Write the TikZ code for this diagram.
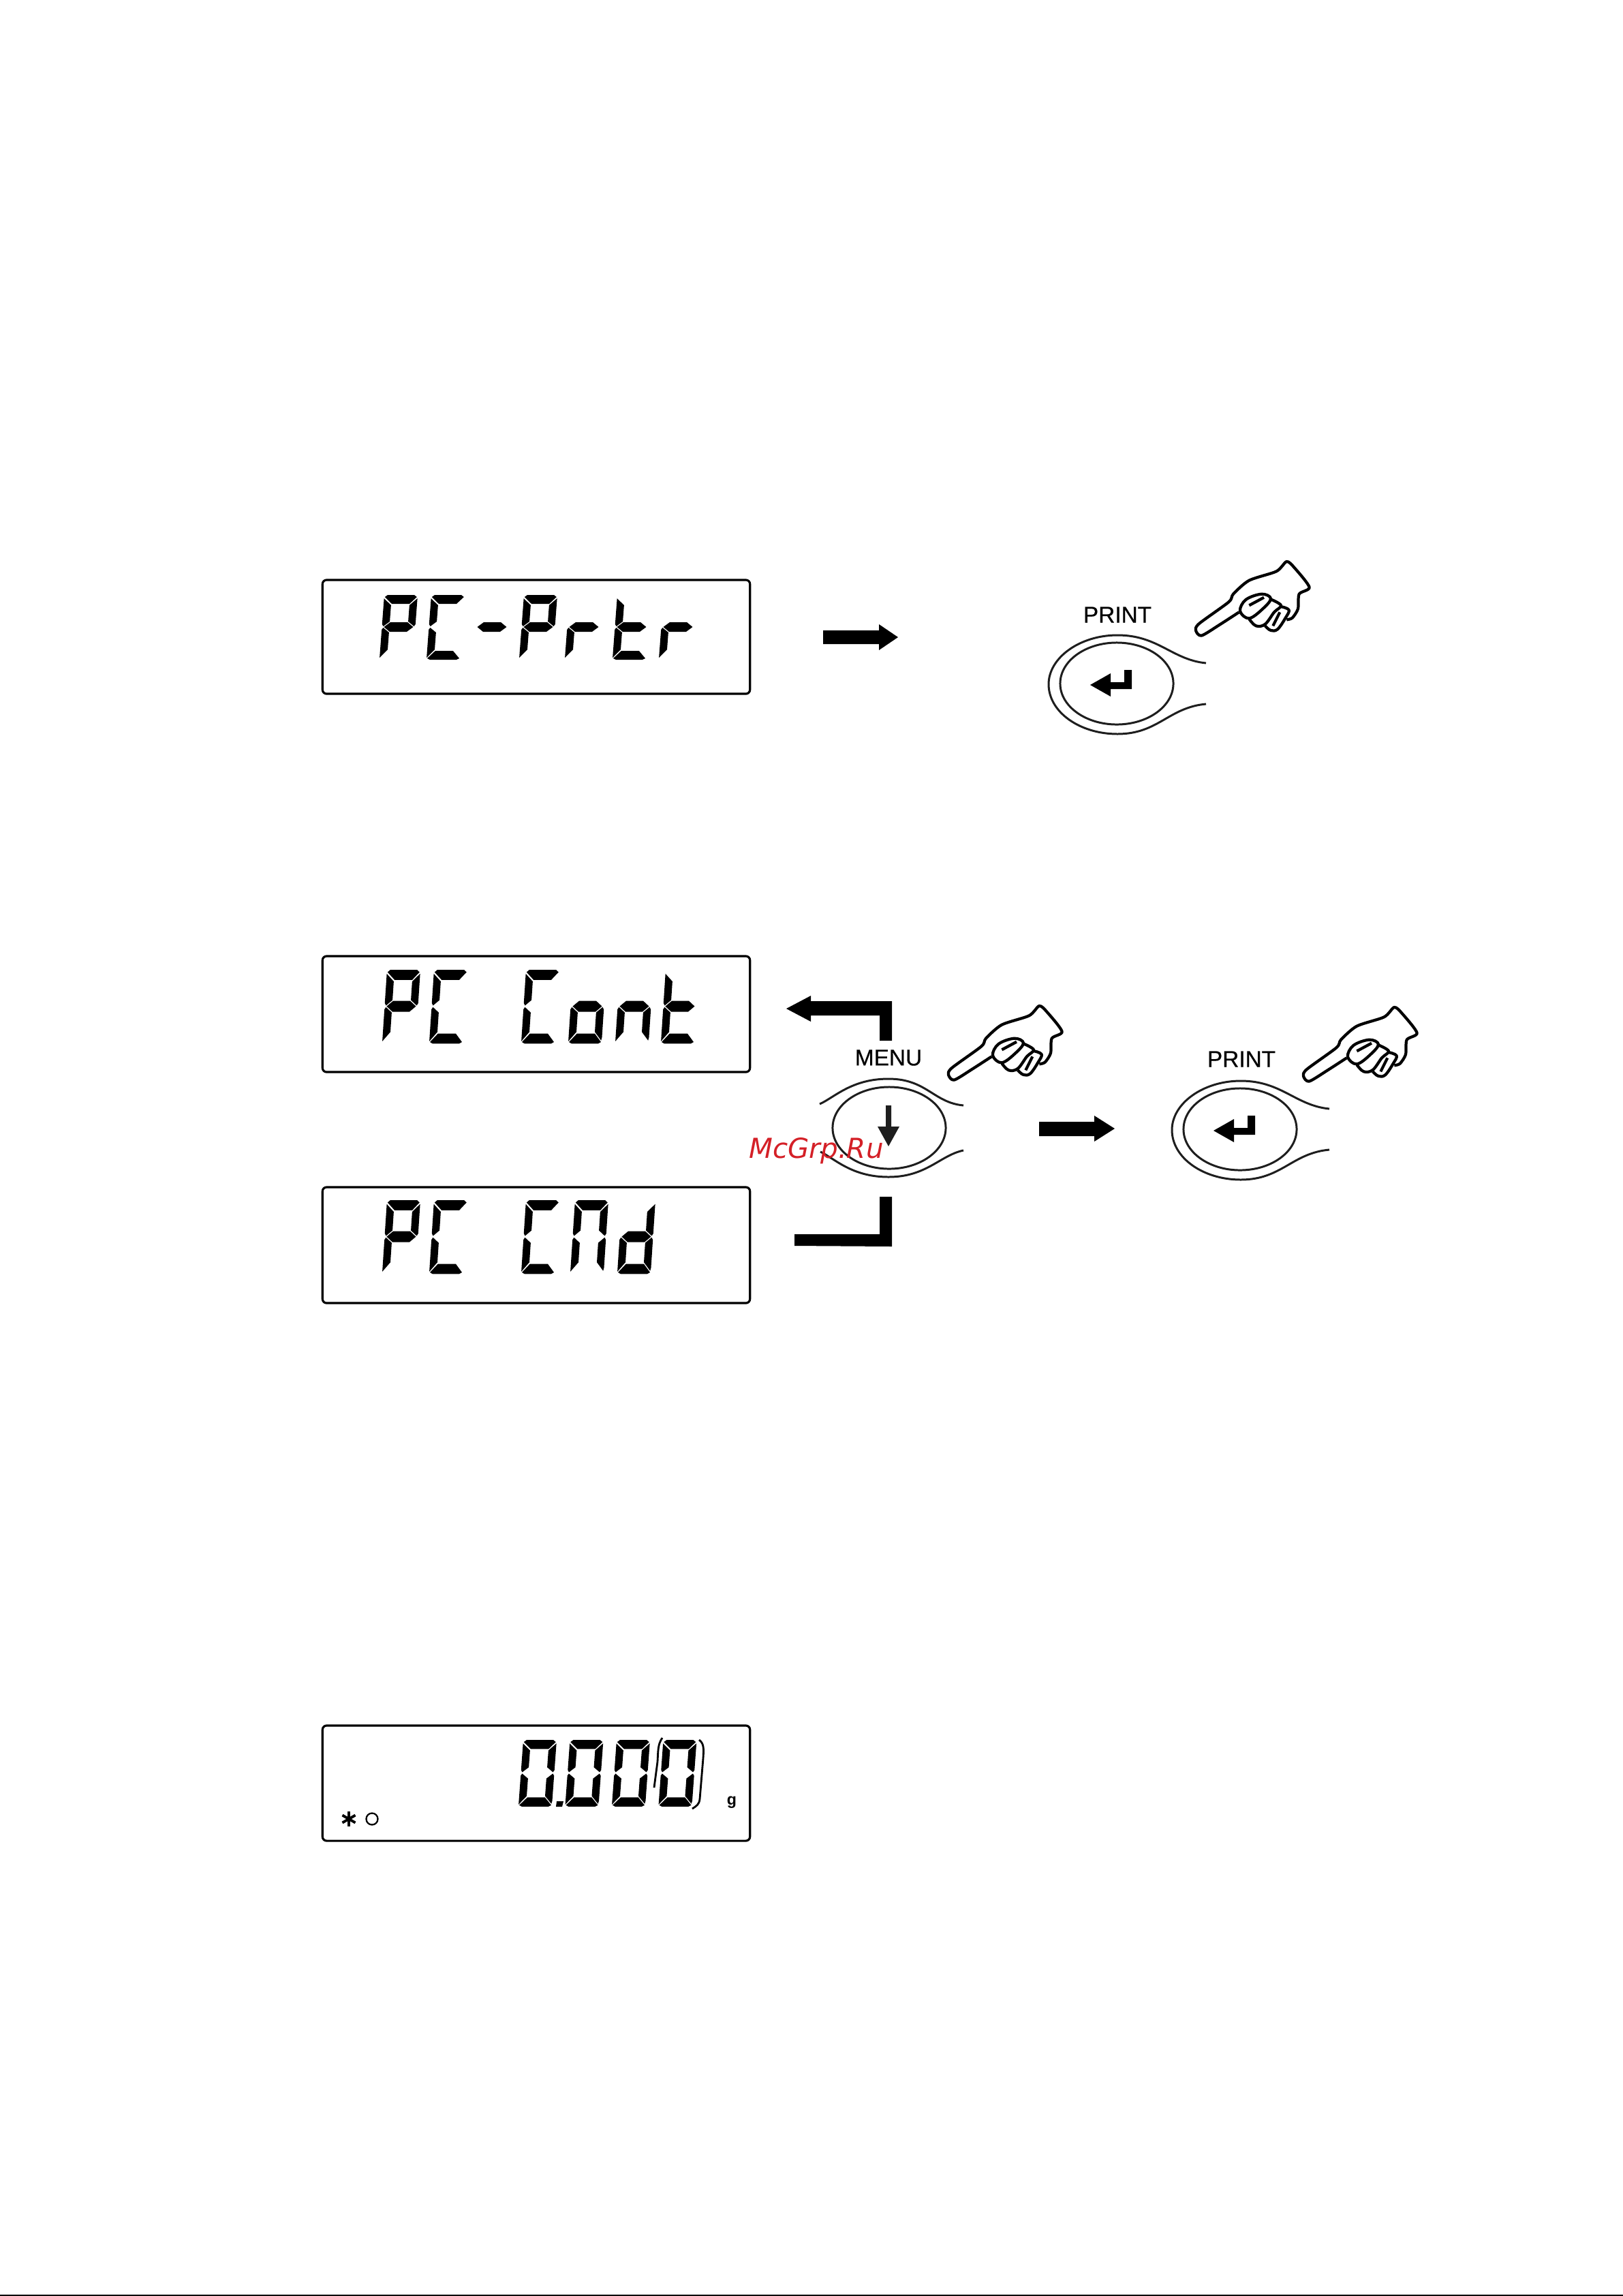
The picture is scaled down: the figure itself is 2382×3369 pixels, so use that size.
\documentclass[tikz,border=0pt]{standalone}
\usepackage{fontspec}
\setmainfont{Liberation Sans}
\newfontfamily\keyfont[FakeBold=0.5]{Liberation Sans}
\newfontfamily\markfont{DejaVu Sans}
\definecolor{markred}{RGB}{212,32,39}
\definecolor{keygray}{RGB}{30,30,30}

% One slanted seven-segment character: left edge, top edge, height factor, segments
\newcommand{\lcdchar}[4]{%
  \begin{scope}[shift={(#1+7,#2)},yscale=#3,xslant=0.075]
    \foreach \seg in {#4} {\fill[black] \csname lcdseg\seg\endcsname;}
  \end{scope}}
\newcommand{\lcdsega}{(5,0) -- (44,0) -- (48,3) -- (38,13) -- (12,13) -- (1,3) -- cycle}
\newcommand{\lcdsegb}{(49,5) -- (49,43) -- (47,46) -- (38,39) -- (38,15) -- cycle}
\newcommand{\lcdsegc}{(49,51) -- (47,48) -- (38,55) -- (38,80) -- (48,91) -- (49,87) -- cycle}
\newcommand{\lcdsegd}{(12,82) -- (38,82) -- (48,93) -- (44,95) -- (5,95) -- (1,93) -- cycle}
\newcommand{\lcdsege}{(0,51) -- (2,48) -- (11,55) -- (11,80) -- (0,92) -- cycle}
\newcommand{\lcdsegf}{(0,5) -- (11,15) -- (11,39) -- (2,46) -- (0,43) -- cycle}
\newcommand{\lcdsegg}{(3,47) -- (12,40) -- (37,40) -- (46,47) -- (37,54) -- (12,54) -- cycle}

\tikzset{
  lcdbox/.style={draw=black,line width=0.9pt,rounded corners=0.06cm,minimum width=6.27cm,inner sep=0pt},
  keylabel/.style={font=\keyfont\fontsize{9.5}{11}\selectfont,inner sep=0pt},
  keyring/.style={line width=0.85pt,draw=keygray},
  pointhand/.pic={
    \begin{scope}[scale=0.3333,line width=1.2pt,line join=round]
      \draw plot[smooth,tension=0.45] coordinates {(235,265) (150,320) (70,368) (45,345) (60,315) (190,220) (210,185) (280,125) (400,85) (445,42) (480,70) (545,155) (500,185) (495,250) (470,290) (445,298)};
      \draw plot[smooth cycle,tension=0.6] coordinates {(240,260) (265,210) (335,185) (375,205) (340,250) (280,292)};
      \draw plot[smooth,tension=0.6] coordinates {(375,208) (420,235) (390,265) (350,318) (310,325) (280,295)};
      \draw plot[smooth,tension=0.6] coordinates {(420,240) (455,255) (440,290) (405,340) (375,345) (350,325)};
      \draw (280,235) -- (345,200);
      \draw (415,265) -- (385,325);
    \end{scope}},
  printkey/.pic={
    \draw[keyring] (131,-30) .. controls (81,-35) and (61,-71) .. (1,-71) .. controls (-54,-71) and (-100,-38) .. (-100,1) .. controls (-100,42) and (-54,74) .. (1,74) .. controls (61,74) and (76,35) .. (131,30);
    \draw[keyring] (0,0) ellipse (0.83cm and 0.6cm);
    \fill[black] (-39,2) -- (-9,-15) -- (-9,-2) -- (11,-2) -- (11,-20) -- (22,-20) -- (22,8) -- (-9,8) -- (-9,19) -- cycle;}
}

\begin{document}
\begin{tikzpicture}[x=0.01cm,y=-0.01cm]
  \useasboundingbox (0,0) rectangle (2382,3369);

  % Page edge at the bottom
  \fill[black] (0,3367) rectangle (2382,3369);

  % Displays
  \node[lcdbox,minimum height=1.67cm] (prtr) at (787,934.5) {};
  \node[lcdbox,minimum height=1.70cm] (cont) at (787,1488) {};
  \node[lcdbox,minimum height=1.70cm] (cmd) at (787,1827) {};
  \node[lcdbox,minimum height=1.69cm] (zero) at (787,2616.5) {};

  % PC-Prtr
  \def\ytop{873}
  \lcdchar{557}{\ytop}{1}{a,b,e,f,g}
  \lcdchar{626}{\ytop}{1}{a,d,e,f}
  \lcdchar{694}{\ytop}{1}{g}
  \lcdchar{762}{\ytop}{1}{a,b,e,f,g}
  \lcdchar{829}{\ytop}{1}{e,g}
  \lcdchar{899}{\ytop}{1}{d,e,f,g}
  \lcdchar{967}{\ytop}{1}{e,g}

  % PC Cont
  \def\ytop{1423}
  \lcdchar{561}{\ytop}{1.14}{a,b,e,f,g}
  \lcdchar{630}{\ytop}{1.14}{a,d,e,f}
  \lcdchar{765}{\ytop}{1.14}{a,d,e,f}
  \lcdchar{834}{\ytop}{1.14}{c,d,e,g}
  \lcdchar{903}{\ytop}{1.14}{c,e,g}
  \lcdchar{970}{\ytop}{1.14}{d,e,f,g}

  % PC CMd
  \def\ytop{1761}
  \lcdchar{561}{\ytop}{1.14}{a,b,e,f,g}
  \lcdchar{630}{\ytop}{1.14}{a,d,e,f}
  \lcdchar{765}{\ytop}{1.14}{a,d,e,f}
  \lcdchar{837}{\ytop}{1.14}{a,b,c,e,f}
  \lcdchar{906}{\ytop}{1.14}{b,c,d,e,g}

  % 0.000 with the brackets round the last place
  \foreach \xdig in {761,829.5,898,966.5} {
    \lcdchar{\xdig}{2553}{1.03}{a,b,c,d,e,f}
  }
  \fill[black] (817,2643) -- (827,2643) -- (825,2651) -- (816,2651) -- cycle;
  \draw[line width=0.8pt] (972,2550) .. controls (965,2560) and (966,2570) .. (965,2585) -- (960,2623);
  \draw[line width=0.8pt] (1026,2553) .. controls (1033,2558) and (1033,2565) .. (1032,2580) -- (1027,2640) .. controls (1026,2648) and (1022,2650) .. (1016,2654);
  \node[inner sep=0pt,font=\fontsize{6.6}{8}\selectfont\bfseries] (unit) at (1074,2645) {g};
  \foreach \ang in {0,60,120} {
    \draw[line width=1.1pt] (512,2669) ++(90+\ang:11) -- ++(270+\ang:22);
  }
  \draw[line width=0.65pt] (546,2669) ellipse (0.085cm and 0.085cm);

  % Block arrows
  \fill[black] (1208,925) -- (1290,925) -- (1290,916) -- (1318,935) -- (1290,954) -- (1290,945) -- (1208,945) -- cycle;
  \fill[black] (1525,1646) -- (1606,1646) -- (1606,1637) -- (1636,1656) -- (1606,1675) -- (1606,1667) -- (1525,1667) -- cycle;
  \fill[black] (1309,1527) -- (1309,1469) -- (1190,1469) -- (1190,1461) -- (1154,1480) -- (1190,1499) -- (1190,1490) -- (1291,1490) -- (1291,1527) -- cycle;
  \fill[black] (1309,1756) -- (1309,1829) -- (1166,1828) -- (1166,1811) -- (1291,1811) -- (1291,1756) -- cycle;

  % Keys
  \pic at (1639,1003) {printkey};
  \node[keylabel] (printa) at (1640,902) {PRINT};
  \pic at (1740,810) {pointhand};

  \pic at (1820,1657) {printkey};
  \node[keylabel] (printb) at (1822,1554) {PRINT};
  \pic at (1898,1464) {pointhand};

  \node[keylabel] (menu) at (1304,1552) {MENU};
  \draw[keyring] (1305,1655) ellipse (0.83cm and 0.6cm);
  \draw[keyring] (1203,1620) .. controls (1225,1610) and (1250,1583) .. (1304,1583) .. controls (1360,1583) and (1370,1618) .. (1414,1622);
  \draw[keyring] (1204,1690) .. controls (1225,1700) and (1250,1727) .. (1304,1727) .. controls (1360,1727) and (1380,1695) .. (1414,1688);
  \fill[keygray] (1300,1622) -- (1308,1622) -- (1308,1653) -- (1320,1653) -- (1304,1682) -- (1288,1653) -- (1300,1653) -- cycle;
  \pic at (1377,1462) {pointhand};

  % Site mark
  \node[inner sep=0pt,text=markred,font=\markfont\itshape\fontsize{11.5}{14}\selectfont] (sitemark) at (1198,1689) {McGrp.Ru};
\end{tikzpicture}
\end{document}
